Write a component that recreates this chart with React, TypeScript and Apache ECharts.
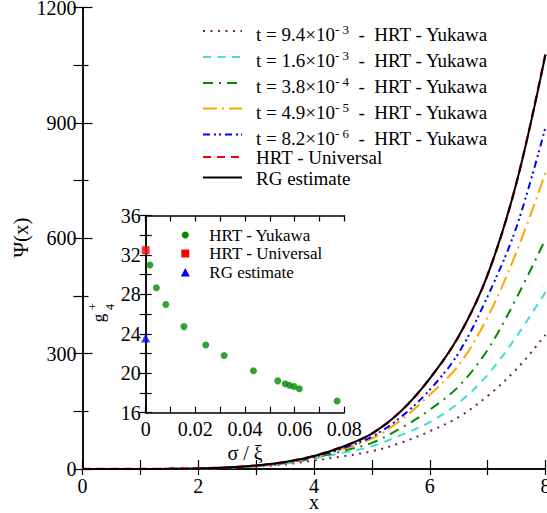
import React, { useEffect, useRef } from "react";
import * as echarts from "echarts";

const FONT = "Liberation Serif";

// Main plot data
const xs = [0, 0.5, 1, 1.5, 2, 2.5, 3, 3.5, 4, 4.5, 5, 5.5, 6, 6.5, 7, 7.5, 8];
const psiT94e3 = [0, 0, 0.1, 0.3, 1.0, 2.8, 6.3, 12, 22, 33, 46, 68, 98, 135, 190, 260, 349];
const psiT16e3 = [0, 0, 0.1, 0.4, 1.2, 3.3, 7.2, 14, 27, 42, 59, 88, 122, 172, 245, 345, 460];
const psiT38e4 = [0, 0, 0.1, 0.4, 1.3, 3.5, 7.8, 15, 29, 47, 68, 106, 154, 215, 310, 445, 598];
const psiT49e5 = [0, 0, 0.1, 0.5, 1.4, 3.7, 8.3, 16, 31, 52, 79, 127, 193, 270, 395, 565, 770];
const psiT82e6 = [0, 0, 0.1, 0.5, 1.4, 3.8, 8.5, 17, 32, 54, 84, 135, 206, 302, 449, 630, 889];
const psiUniversal = [0, 0, 0.1, 0.5, 1.5, 4, 9, 18, 34, 58, 92, 150, 235, 345, 505, 745, 1080];
const psiRG = [0, 0, 0.1, 0.5, 1.5, 4, 9, 18, 34, 58, 92, 150, 235, 345, 505, 745, 1078];

const tMantissas = ["9.4", "1.6", "3.8", "4.9", "8.2"];
const tExponents = ["- 3", "- 3", "- 4", "- 5", "- 6"];

// Inset data
const yukawaX = [0.0017, 0.0043, 0.0081, 0.0154, 0.0242, 0.0316, 0.0434, 0.0532, 0.0562, 0.0579, 0.0597, 0.0619, 0.0771];
const yukawaG4 = [30.98, 28.68, 26.98, 24.73, 22.87, 21.81, 20.25, 19.23, 18.93, 18.79, 18.65, 18.42, 17.19];
const universalPoint = [0, 32.48];
const rgPoint = [0, 23.58];

const mainXTicks = { min: 0, max: 8, interval: 1 };
const mainYTicks = { min: 0, max: 1200, interval: 300 };
const insetXTicks = { min: 0, max: 0.08, interval: 0.01 };
const insetYTicks = { min: 16, max: 36, interval: 2 };

const curveStyles = [
  { color: "#74196a", dash: [2, 5.5] },
  { color: "#40e0d0", dash: [8, 6.5] },
  { color: "#008b00", dash: [10, 6, 2, 6] },
  { color: "#ffa500", dash: [14, 5, 2, 5] },
  { color: "#0000ff", dash: [7, 4, 2, 3, 2, 4] },
];
const curves = [psiT94e3, psiT16e3, psiT38e4, psiT49e5, psiT82e6];

export default function App() {
  const ref = useRef<HTMLDivElement>(null);
  useEffect(() => {
    document.body.style.margin = "0";
    const chart = echarts.init(ref.current!, null, { renderer: "svg" });
    const pairs = (ys: number[]) => xs.map((x, i) => [x, ys[i]]);
    const axisLine = { show: true, lineStyle: { color: "#000", width: 1.5 } };
    const labelStyle = { fontFamily: FONT, fontSize: 20, color: "#000" };

    const series: any[] = curves.map((ys, i) => ({
      type: "line",
      name: `t = ${tMantissas[i]}e${tExponents[i]} - HRT - Yukawa`,
      xAxisIndex: 0,
      yAxisIndex: 0,
      data: pairs(ys),
      smooth: 0.35,
      showSymbol: false,
      symbol: "none",
      lineStyle: { color: curveStyles[i].color, width: 2, type: curveStyles[i].dash },
      z: 3,
    }));
    series.push({
      type: "line",
      name: "HRT - Universal",
      xAxisIndex: 0,
      yAxisIndex: 0,
      data: pairs(psiUniversal),
      smooth: 0.35,
      symbol: "none",
      lineStyle: { color: "#ff0000", width: 2.4, type: [8, 6] },
      z: 4,
    });
    series.push({
      type: "line",
      name: "RG estimate",
      xAxisIndex: 0,
      yAxisIndex: 0,
      data: pairs(psiRG),
      smooth: 0.35,
      symbol: "none",
      lineStyle: { color: "#000", width: 2 },
      z: 5,
    });
    series.push({
      type: "scatter",
      name: "HRT - Yukawa (g4)",
      xAxisIndex: 2,
      yAxisIndex: 2,
      data: yukawaX.map((x, i) => [x, yukawaG4[i]]),
      symbol: "circle",
      symbolSize: 7,
      itemStyle: { color: "#008b00" },
      clip: false,
      z: 6,
    });
    series.push({
      type: "scatter",
      name: "HRT - Universal (g4)",
      xAxisIndex: 2,
      yAxisIndex: 2,
      data: [universalPoint],
      symbol: "rect",
      symbolSize: 8,
      itemStyle: { color: "#ff0000" },
      clip: false,
      z: 6,
    });
    series.push({
      type: "scatter",
      name: "RG estimate (g4)",
      xAxisIndex: 2,
      yAxisIndex: 2,
      data: [rgPoint],
      symbol: "triangle",
      symbolSize: 9,
      itemStyle: { color: "#0000ff" },
      clip: false,
      z: 6,
    });

    const legendRows = [31, 57, 83, 108.5, 134.5, 157, 177.5];
    const legendTextY = [33.5, 59.5, 85.5, 111.5, 137.5, 157.5, 178];
    const graphic: any[] = [];
    curveStyles.forEach((s, i) => {
      graphic.push({
        type: "line",
        shape: { x1: 203, y1: legendRows[i], x2: 242, y2: legendRows[i] },
        style: { stroke: s.color, lineWidth: 2, lineDash: s.dash },
        z: 10,
      });
      graphic.push({
        type: "text",
        x: 256,
        y: legendTextY[i],
        style: {
          text: `{a|t = ${tMantissas[i]}×10}{sup|${tExponents[i]}}{a|  -  HRT - Yukawa}`,
          verticalAlign: "middle",
          align: "left",
          fill: "#000",
          rich: {
            a: { fontFamily: FONT, fontSize: 19, lineHeight: 21, verticalAlign: "bottom", fill: "#000" },
            sup: { fontFamily: FONT, fontSize: 13, lineHeight: 11, verticalAlign: "top", fill: "#000" },
          },
        },
        z: 10,
      });
    });
    graphic.push({
      type: "line",
      shape: { x1: 203, y1: legendRows[5], x2: 242, y2: legendRows[5] },
      style: { stroke: "#ff0000", lineWidth: 2, lineDash: [8, 6] },
      z: 10,
    });
    graphic.push({
      type: "text",
      x: 256,
      y: legendTextY[5],
      style: { text: "HRT - Universal", fontFamily: FONT, fontSize: 19, fill: "#000", verticalAlign: "middle" },
      z: 10,
    });
    graphic.push({
      type: "line",
      shape: { x1: 203, y1: legendRows[6], x2: 242, y2: legendRows[6] },
      style: { stroke: "#000", lineWidth: 2 },
      z: 10,
    });
    graphic.push({
      type: "text",
      x: 256,
      y: legendTextY[6],
      style: { text: "RG estimate", fontFamily: FONT, fontSize: 19, fill: "#000", verticalAlign: "middle" },
      z: 10,
    });

    // inset legend
    graphic.push({ type: "circle", shape: { cx: 185.3, cy: 235, r: 3.5 }, style: { fill: "#008b00" }, z: 10 });
    graphic.push({ type: "rect", shape: { x: 181.3, y: 249.5, width: 8, height: 8 }, style: { fill: "#ff0000" }, z: 10 });
    graphic.push({
      type: "polygon",
      shape: { points: [[185.3, 268], [189.8, 276.5], [180.8, 276.5]] },
      style: { fill: "#0000ff" },
      z: 10,
    });
    [["HRT - Yukawa", 235], ["HRT - Universal", 253.5], ["RG estimate", 272.5]].forEach(([t, y]) => {
      graphic.push({
        type: "text",
        x: 209.3,
        y: y as number,
        style: { text: t as string, fontFamily: FONT, fontSize: 17, fill: "#000", verticalAlign: "middle" },
        z: 10,
      });
    });

    // axis titles
    graphic.push({
      type: "text",
      x: 21,
      y: 237.5,
      rotation: Math.PI / 2,
      style: { text: "Ψ(x)", fontFamily: FONT, fontSize: 21, fill: "#000", align: "center", verticalAlign: "middle" },
    });
    graphic.push({
      type: "text",
      x: 314,
      y: 502,
      style: { text: "x", fontFamily: FONT, fontSize: 20, fill: "#000", align: "center", verticalAlign: "middle" },
    });
    graphic.push({
      type: "text",
      x: 245,
      y: 453,
      style: { text: "σ / ξ", fontFamily: FONT, fontSize: 20, fill: "#000", align: "center", verticalAlign: "middle" },
    });
    graphic.push({
      type: "group",
      x: 102.5,
      y: 318,
      rotation: Math.PI / 2,
      children: [
        { type: "text", x: 0, y: -3.7, style: { text: "g", fontFamily: FONT, fontSize: 17, fill: "#000", align: "center", verticalAlign: "middle" } },
        { type: "text", x: 11, y: 7.5, style: { text: "4", fontFamily: FONT, fontSize: 12, fill: "#000", align: "center", verticalAlign: "middle" } },
        { type: "text", x: 11.3, y: -9.2, style: { text: "+", fontFamily: FONT, fontSize: 12, fill: "#000", align: "center", verticalAlign: "middle" } },
      ],
    });

    const evenX = (v: number) => (Math.round(v) % 2 === 0 ? String(Math.round(v)) : "");
    const plainY = (v: number) => String(Math.round(v));
    const insetXLabel = (v: number) => {
      const k = Math.round(v * 100);
      if (k % 2 !== 0) return "";
      return k === 0 ? "0" : (k / 100).toFixed(2);
    };
    const insetYLabel = (v: number) => (Math.round(v) % 4 === 0 ? String(Math.round(v)) : "");

    chart.setOption({
      animation: false,
      backgroundColor: "#fff",
      grid: [
        { left: 82.5, top: 7.5, width: 463, height: 461.5, outerBoundsMode: "none", containLabel: false },
        {
          left: 145.7, top: 215.5, width: 198.6, height: 197.2,
          outerBoundsMode: "none", containLabel: false,
          show: true, backgroundColor: "#fff", borderWidth: 0, z: 2,
        },
      ],
      xAxis: [
        {
          gridIndex: 0, type: "value", position: "bottom", ...mainXTicks,
          axisLine, splitLine: { show: false },
          axisTick: { show: true, inside: true, length: 9, lineStyle: { color: "#000", width: 1.2 } },
          axisLabel: { ...labelStyle, margin: 7, formatter: evenX, showMaxLabel: true, showMinLabel: true },
        },
        {
          gridIndex: 0, type: "value", position: "top", ...mainXTicks,
          axisLine, splitLine: { show: false },
          axisTick: { show: true, inside: true, length: 6, lineStyle: { color: "#000", width: 1.2 } },
          axisLabel: { show: false },
        },
        {
          gridIndex: 1, type: "value", position: "bottom", ...insetXTicks,
          axisLine, splitLine: { show: false },
          axisTick: { show: true, inside: true, length: 6, lineStyle: { color: "#000", width: 1.2 } },
          axisLabel: { ...labelStyle, margin: 6, formatter: insetXLabel, showMaxLabel: true, showMinLabel: true },
          z: 3,
        },
        {
          gridIndex: 1, type: "value", position: "top", ...insetXTicks,
          axisLine, splitLine: { show: false },
          axisTick: { show: true, inside: true, length: 6, lineStyle: { color: "#000", width: 1.2 } },
          axisLabel: { show: false },
          z: 3,
        },
      ],
      yAxis: [
        {
          gridIndex: 0, type: "value", position: "left", ...mainYTicks,
          axisLine, splitLine: { show: false },
          axisTick: { show: true, inside: true, length: 10, lineStyle: { color: "#000", width: 1.2 } },
          minorTick: { show: true, splitNumber: 2, length: 6, lineStyle: { color: "#000", width: 1.2 } },
          minorSplitLine: { show: false },
          axisLabel: { ...labelStyle, margin: 6, formatter: plainY },
        },
        {
          gridIndex: 0, type: "value", position: "right", min: 0, max: 1200, interval: 150,
          axisLine, splitLine: { show: false },
          axisTick: { show: true, inside: true, length: 9, lineStyle: { color: "#000", width: 1.2 } },
          axisLabel: { show: false },
        },
        {
          gridIndex: 1, type: "value", position: "left", ...insetYTicks,
          axisLine, splitLine: { show: false },
          axisTick: { show: true, inside: true, length: 6, lineStyle: { color: "#000", width: 1.2 } },
          axisLabel: { ...labelStyle, margin: 5, formatter: insetYLabel },
          z: 3,
        },
        {
          gridIndex: 1, type: "value", position: "right", ...insetYTicks,
          axisLine, splitLine: { show: false },
          axisTick: { show: true, inside: true, length: 6, lineStyle: { color: "#000", width: 1.2 } },
          axisLabel: { show: false },
          z: 3,
        },
      ],
      series,
      graphic,
    });
    return () => chart.dispose();
  }, []);
  return <div ref={ref} style={{ width: 547, height: 513 }} />;
}
